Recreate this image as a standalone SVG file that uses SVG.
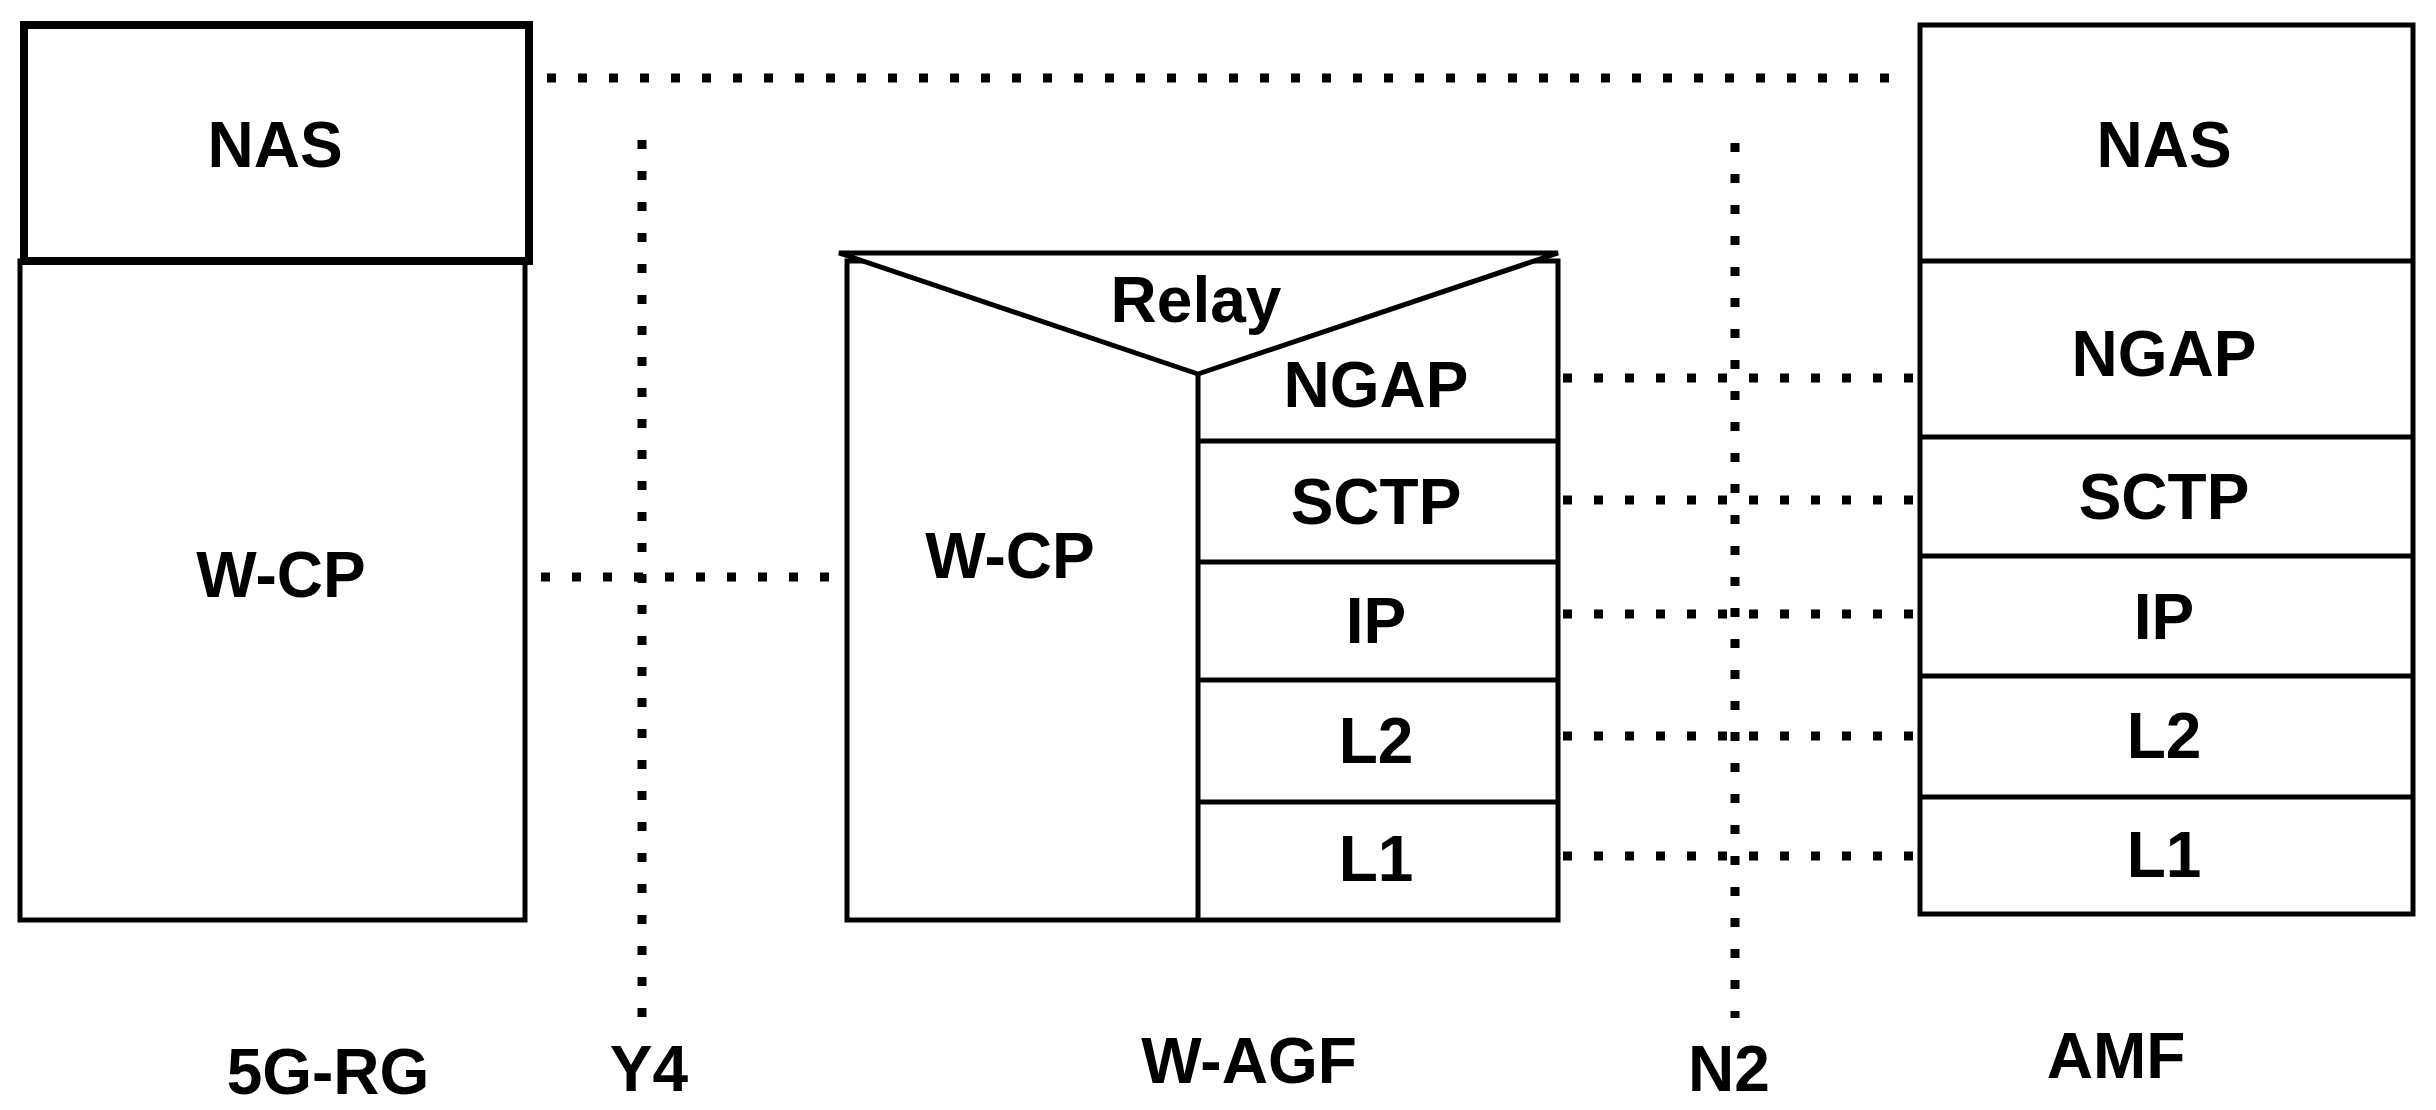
<svg xmlns="http://www.w3.org/2000/svg" width="2436" height="1110" viewBox="0 0 2436 1110">
<style>
.b{fill:#fff;stroke:#000;stroke-width:5}
.l{fill:none;stroke:#000;stroke-width:5}
.d{fill:none;stroke:#000;stroke-width:9;stroke-dasharray:9 22}
text{font-family:"Liberation Sans",Arial,sans-serif;font-weight:bold;font-size:64px;text-anchor:middle;dominant-baseline:central;fill:#000}
</style>
<rect width="2436" height="1110" fill="#fff"/>
<g id="connectors">
<path class="d" d="M547 78H1908"/>
<path class="d" d="M642 140V1018"/>
<path class="d" d="M1735 143V1018"/>
<path class="d" d="M541 577H839"/>
<path class="d" d="M1563 378H1914M1563 500H1914M1563 614H1914M1563 736H1914M1563 856H1914"/>
</g>
<g id="rg">
<rect class="b" x="20" y="261" width="505" height="659"/>
<rect x="24" y="25" width="505" height="236" fill="#fff" stroke="#000" stroke-width="8"/>
<text x="275" y="145">NAS</text>
<text x="281" y="575">W-CP</text>
</g>
<g id="wagf">
<rect class="b" x="847" y="261" width="711" height="659"/>
<path d="M839 253H1558L1198 374Z" fill="#fff" stroke="#000" stroke-width="5" stroke-linejoin="bevel"/>
<path class="l" d="M1198 374V920M1198 441H1558M1198 562H1558M1198 680H1558M1198 802H1558"/>
<text x="1196" y="300">Relay</text>
<text x="1376" y="385">NGAP</text>
<text x="1376" y="502">SCTP</text>
<text x="1376" y="621">IP</text>
<text x="1376" y="741">L2</text>
<text x="1376" y="859">L1</text>
<text x="1010" y="556">W-CP</text>
</g>
<g id="amf">
<rect class="b" x="1920" y="25" width="493" height="889"/>
<path class="l" d="M1920 261H2413M1920 437H2413M1920 556H2413M1920 676H2413M1920 797H2413"/>
<text x="2164" y="145">NAS</text>
<text x="2164" y="354">NGAP</text>
<text x="2164" y="497">SCTP</text>
<text x="2164" y="617">IP</text>
<text x="2164" y="736">L2</text>
<text x="2164" y="855">L1</text>
</g>
<g id="labels">
<text x="328" y="1072">5G-RG</text>
<text x="649" y="1069">Y4</text>
<text x="1249" y="1061">W-AGF</text>
<text x="1729" y="1069">N2</text>
<text x="2116" y="1056">AMF</text>
</g>
</svg>
